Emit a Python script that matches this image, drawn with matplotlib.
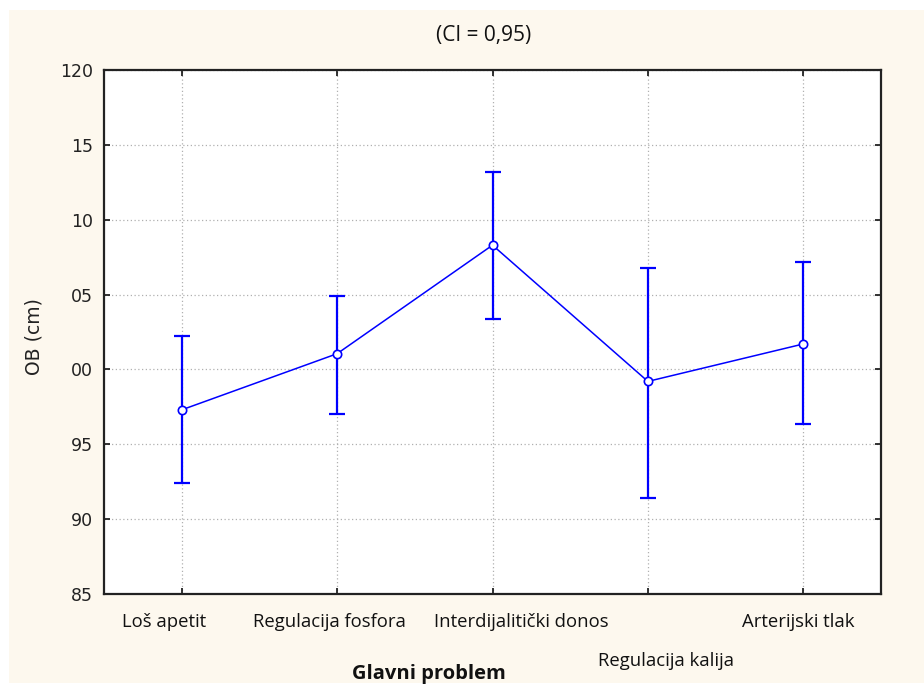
import matplotlib
matplotlib.use("Agg")
import matplotlib.pyplot as plt
from matplotlib.patches import Rectangle
from matplotlib.transforms import ScaledTranslation
import numpy as np

categories = ["Loš apetit", "Regulacija fosfora", "Interdijalitički donos",
              "Regulacija kalija", "Arterijski tlak"]
means = [97.3, 101.05, 108.3, 99.2, 101.7]
upper = [102.25, 104.9, 113.2, 106.8, 107.2]
lower = [92.4, 97.05, 103.35, 91.4, 96.35]
ytick_values = [85, 90, 95, 100, 105, 110, 115, 120]
ytick_labels = ["85", "90", "95", "00", "05", "10", "15", "120"]
title = "(CI = 0,95)"
xlabel = "Glavni problem"
ylabel = "OB (cm)"

W, H = 924, 686
fig = plt.figure(figsize=(W / 100, H / 100), dpi=100, facecolor="white")
fig.patches.append(Rectangle((9 / W, 3 / H), 1 - 9 / W, (686 - 10 - 3) / H,
                             transform=fig.transFigure, facecolor="#fdf8ee",
                             edgecolor="none", zorder=-5))

ax = fig.add_axes([104 / W, 1 - 594 / H, (881 - 104) / W, (594 - 70) / H])
ax.set_zorder(1)
ax.set_facecolor("white")

x = np.arange(len(categories))
m = np.array(means)
yerr = np.vstack([m - np.array(lower), np.array(upper) - m])

ax.errorbar(x, m, yerr=yerr, fmt="none", ecolor="#0000ff", elinewidth=1.6,
            capsize=6, capthick=1.6, zorder=3)
ax.plot(x, m, color="#0000ff", lw=1.1, marker="o", markersize=6,
        markerfacecolor="white", markeredgecolor="#0000ff", markeredgewidth=1.2,
        zorder=4)

ax.set_xlim(-0.5, len(categories) - 0.5)
ax.set_ylim(85, 120)
ax.set_yticks(ytick_values)
ax.set_yticklabels(ytick_labels, fontsize=12.5, family="DejaVu Sans", color="#222222")
ax.set_xticks(x)
ax.set_xticklabels(categories, fontsize=13.3, family="Open Sans", color="#111111")

ax.tick_params(axis="both", direction="in", length=4, width=1.2,
               top=True, right=True, color="#111111")
ax.tick_params(axis="y", pad=8)
ax.tick_params(axis="x", pad=14)

# Statistica-style label placement: horizontal nudges (px) and staggered row
nudges_px = [-18, -8, 29, 18, -5]
for i, lbl in enumerate(ax.get_xticklabels()):
    lbl.set_transform(lbl.get_transform() +
                      ScaledTranslation(nudges_px[i] / 100, 0, fig.dpi_scale_trans))
ax.get_xticklabels()[3].set_y(-39 / 524)

ax.grid(True, linestyle=(0, (1, 2)), color="#b0b0b0", linewidth=0.9)
ax.set_axisbelow(True)
for s in ax.spines.values():
    s.set_linewidth(1.6)
    s.set_color("#222222")

ax.set_xlabel(xlabel, fontsize=14.5, family="Open Sans", fontweight="bold", color="#111111")
ax.xaxis.set_label_coords((428.5 - 104) / 777, -(674 - 594) / 524)
ax.xaxis.label.set_va("center")

ax.set_ylabel(ylabel, fontsize=13.5, family="DejaVu Sans", color="#222222")
ax.yaxis.set_label_coords((34 - 104) / 777, (594 - 337) / 524)
ax.yaxis.label.set_va("center")

fig.text(484 / W, 1 - 36 / H, title, ha="center", va="center", fontsize=15,
         family="Open Sans", color="#111111")

fig.savefig("out.png", dpi=100, facecolor=fig.get_facecolor())
